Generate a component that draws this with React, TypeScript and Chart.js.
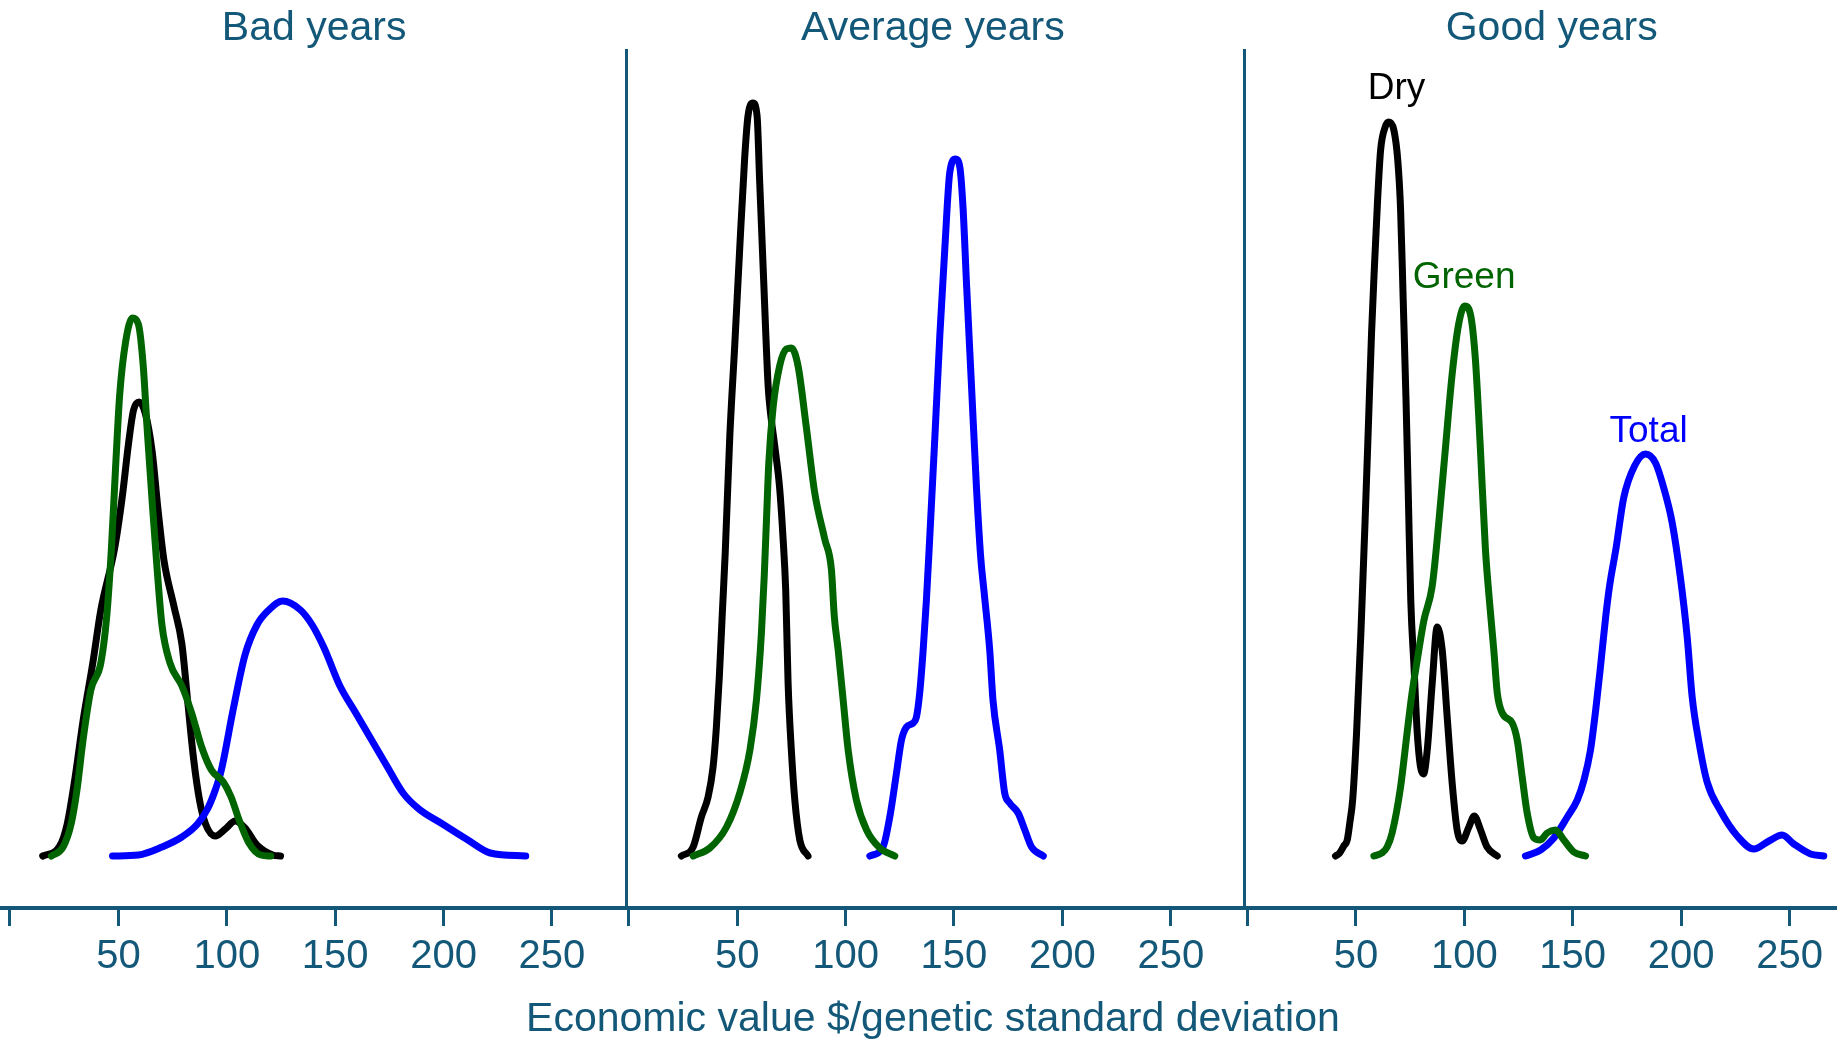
import { useEffect, useRef } from 'react';
import { Chart, registerables } from 'chart.js';

Chart.register(...registerables);

// ---- Text ----
const PANEL_TITLES = ['Bad years', 'Average years', 'Good years'];
const X_TITLE = 'Economic value $/genetic standard deviation';
const TICK_VALUES = [0, 50, 100, 150, 200, 250];

// ---- Kernel density estimates (x = $/genetic SD, y = density) ----
// Bad years
const BAD_DRY_X = [15.1, 22.7, 26.4, 30, 33.7, 38.2, 41.9, 48.3, 51.9, 54.6, 57, 59.6, 62.5, 65.6, 68.3, 71, 75.6, 79.3, 82, 84.7, 87.5, 90.2, 94.7, 99.3, 103.9, 108.4, 113.9, 121.2, 124.8];
const BAD_DRY_Y = [0, 0.00045, 0.0016, 0.0039, 0.00675, 0.00965, 0.0123, 0.0154, 0.01805, 0.02055, 0.0223, 0.0227, 0.0221, 0.0202, 0.0173, 0.0148, 0.0125, 0.0106, 0.0077, 0.00485, 0.00275, 0.0016, 0.001, 0.00135, 0.00175, 0.0014, 0.00055, 0.00005, 0];

const BAD_GREEN_X = [19.1, 24.5, 28.2, 30.9, 33.7, 37.3, 41.9, 44.6, 46.8, 48.6, 50.6, 53.4, 56.5, 59.2, 61.4, 63.4, 65.6, 67.8, 70.1, 73.8, 79.3, 83.8, 88.4, 92.9, 98.4, 102, 105.7, 110.2, 115.7, 120.3];
const BAD_GREEN_Y = [0, 0.00045, 0.0016, 0.0033, 0.0058, 0.0083, 0.00965, 0.01195, 0.0154, 0.0192, 0.02305, 0.02575, 0.0269, 0.0266, 0.0246, 0.02115, 0.0177, 0.01445, 0.01155, 0.00965, 0.0085, 0.00715, 0.00545, 0.0043, 0.0037, 0.00295, 0.0018, 0.00065, 0.00005, 0];

const BAD_TOTAL_X = [47.3, 59.2, 70.1, 79.3, 86.5, 91.1, 94.7, 97.5, 103, 108.4, 113.9, 119.4, 125.7, 134, 139.4, 144.9, 152.2, 159.5, 166.8, 174.1, 181.3, 188.6, 199.5, 210.5, 221.5, 237.9];
const BAD_TOTAL_Y = [0, 0.00005, 0.00045, 0.00095, 0.0016, 0.00235, 0.0033, 0.0043, 0.00735, 0.01005, 0.01155, 0.0123, 0.01275, 0.0123, 0.01155, 0.0104, 0.0085, 0.00715, 0.0058, 0.00445, 0.00315, 0.00235, 0.0016, 0.00085, 0.00015, 0];

// Average years
const AVG_DRY_X = [24.3, 29.7, 33.5, 36.6, 38.9, 40.4, 41.8, 43.1, 44.5, 46.6, 48.9, 51.2, 53.5, 55, 57.3, 59.2, 60.4, 62.3, 64.3, 65.1, 67.4, 69.6, 71.2, 72.4, 73.5, 75, 76.6, 78.9, 82.7];
const AVG_DRY_Y = [0, 0.00045, 0.00195, 0.00295, 0.00445, 0.0064, 0.009, 0.012, 0.01515, 0.02095, 0.02555, 0.0304, 0.03495, 0.037, 0.03765, 0.037, 0.0337, 0.0286, 0.0235, 0.02245, 0.02045, 0.0184, 0.01585, 0.0133, 0.00865, 0.0053, 0.0028, 0.0008, 0];

const AVG_GREEN_X = [29.7, 37.4, 45.1, 51.2, 55.9, 58.9, 61.2, 62.5, 63.6, 64.6, 66.6, 69.6, 72.7, 75, 78.1, 81.9, 85.8, 90.4, 93.5, 94.8, 96.6, 98.9, 101.2, 105, 109.7, 115.8, 122.7];
const AVG_GREEN_Y = [0, 0.0004, 0.00145, 0.00315, 0.0053, 0.0078, 0.01115, 0.014, 0.017, 0.01965, 0.02245, 0.0245, 0.02535, 0.0254, 0.0245, 0.02145, 0.01815, 0.01585, 0.0143, 0.012, 0.0103, 0.0078, 0.0053, 0.0028, 0.0013, 0.0004, 0];

const AVG_TOTAL_X = [111.2, 117.3, 120.4, 123.5, 125.8, 128.1, 131.2, 132.7, 134.2, 135.8, 137.3, 138.8, 141.2, 143.5, 145.8, 148.1, 150.8, 152.7, 154.2, 155.8, 158.1, 160.4, 162.3, 164, 166.5, 168, 171.1, 173.4, 175.7, 179.6, 182.7, 185.8, 191.2];
const AVG_TOTAL_Y = [0, 0.00045, 0.00195, 0.00415, 0.0058, 0.00645, 0.00665, 0.00695, 0.00815, 0.0103, 0.0128, 0.01585, 0.02095, 0.02605, 0.0304, 0.0342, 0.03485, 0.03445, 0.0324, 0.0286, 0.0235, 0.0184, 0.015, 0.0131, 0.0103, 0.0078, 0.0053, 0.00315, 0.00265, 0.00215, 0.0013, 0.00045, 0];

// Good years
const GOOD_DRY_X = [40.6, 42.5, 44.4, 46, 47.3, 48.5, 50.3, 52.3, 54.2, 55.8, 57.2, 58.6, 60, 61.4, 63.5, 65.2, 67.5, 69.3, 70.6, 71.8, 73.1, 74.2, 75.3, 76.8, 78.3, 79.8, 81.2, 82.9, 85.2, 87.5, 89.8, 92.1, 94.4, 96.7, 99, 102.1, 104.6, 107.5, 110.5, 115.2];
const GOOD_DRY_Y = [0, 0.00015, 0.0005, 0.0008, 0.00175, 0.0028, 0.00615, 0.01115, 0.01665, 0.02165, 0.0261, 0.0296, 0.0328, 0.0353, 0.03645, 0.0367, 0.0363, 0.0348, 0.03235, 0.02785, 0.02285, 0.0179, 0.0128, 0.00945, 0.00615, 0.00445, 0.0041, 0.0053, 0.00865, 0.01145, 0.0103, 0.00695, 0.00365, 0.0013, 0.00075, 0.00145, 0.002, 0.0013, 0.00045, 0];

const GOOD_GREEN_X = [58.3, 62, 64.4, 66.7, 70.6, 73.6, 75.9, 78.3, 81.3, 85.2, 88.2, 91.3, 94.4, 97.4, 100.2, 102.8, 105.1, 107.4, 109.7, 112, 113.6, 115.2, 117.5, 122.1, 124.4, 126.7, 129, 132.1, 135.1, 138.2, 142, 145.9, 150.5, 155.9];
const GOOD_GREEN_Y = [0, 0.00015, 0.00045, 0.00115, 0.00345, 0.00615, 0.00815, 0.0098, 0.01175, 0.0135, 0.01665, 0.0204, 0.0241, 0.0266, 0.0275, 0.0271, 0.02485, 0.0204, 0.0154, 0.01225, 0.0103, 0.00815, 0.00715, 0.00665, 0.0058, 0.00395, 0.00215, 0.0009, 0.0008, 0.00115, 0.0013, 0.0008, 0.0002, 0];

const GOOD_TOTAL_X = [128.2, 135.2, 141.3, 147.5, 152.1, 155.2, 158.2, 160.6, 162.8, 165.2, 167, 170, 173.5, 178.5, 183.6, 188.2, 192, 195.9, 199.7, 202.8, 205.1, 208.2, 212, 218.2, 225.9, 233.5, 240.5, 246.6, 252, 259.7, 265.8];
const GOOD_TOTAL_Y = [0, 0.0003, 0.0009, 0.00195, 0.0028, 0.0038, 0.0053, 0.0073, 0.00945, 0.01195, 0.0135, 0.0154, 0.0179, 0.0195, 0.0201, 0.01965, 0.0184, 0.01665, 0.0139, 0.01095, 0.00795, 0.0057, 0.0037, 0.00225, 0.001, 0.00035, 0.00075, 0.00105, 0.0006, 0.0001, 0];

// Curve labels in the "Good years" panel (x, y at the text baseline centre)
const LABEL_TEXT = ['Dry', 'Green', 'Total'];
const LABEL_X = [68.7, 99.9, 185.0];
const LABEL_Y = [0.03785, 0.0284, 0.0207];

// ---- Styling ----
const AXIS_COLOR = '#135878';
const DRY_COLOR = '#000000';
const GREEN_COLOR = '#006400';
const TOTAL_COLOR = '#0000ff';
const FONT = '"Liberation Sans", Arial, Helvetica, sans-serif';
const PANEL_SPAN = 285.4; // width of one panel in x units
const X_MIN = -4.6;
const X_MAX = 842.7;
const Y_MIN = -0.0026;
const Y_MAX = 0.04035;

const LABEL_COLORS = [DRY_COLOR, GREEN_COLOR, TOTAL_COLOR];

type Curve = { panel: number; color: string; xs: number[]; ys: number[]; order: number };

// Green drawn on top, then Total, then Dry
const CURVES: Curve[] = [
  { panel: 0, color: GREEN_COLOR, xs: BAD_GREEN_X, ys: BAD_GREEN_Y, order: 0 },
  { panel: 1, color: GREEN_COLOR, xs: AVG_GREEN_X, ys: AVG_GREEN_Y, order: 0 },
  { panel: 2, color: GREEN_COLOR, xs: GOOD_GREEN_X, ys: GOOD_GREEN_Y, order: 0 },
  { panel: 0, color: TOTAL_COLOR, xs: BAD_TOTAL_X, ys: BAD_TOTAL_Y, order: 1 },
  { panel: 1, color: TOTAL_COLOR, xs: AVG_TOTAL_X, ys: AVG_TOTAL_Y, order: 1 },
  { panel: 2, color: TOTAL_COLOR, xs: GOOD_TOTAL_X, ys: GOOD_TOTAL_Y, order: 1 },
  { panel: 0, color: DRY_COLOR, xs: BAD_DRY_X, ys: BAD_DRY_Y, order: 2 },
  { panel: 1, color: DRY_COLOR, xs: AVG_DRY_X, ys: AVG_DRY_Y, order: 2 },
  { panel: 2, color: DRY_COLOR, xs: GOOD_DRY_X, ys: GOOD_DRY_Y, order: 2 },
];

const panelDecor = {
  id: 'panelDecor',
  beforeDatasetsDraw(chart: any) {
    const { ctx, chartArea, scales } = chart;
    const xs = scales.x;
    ctx.save();
    ctx.strokeStyle = AXIS_COLOR;
    ctx.lineWidth = 3;
    for (let k = 1; k < PANEL_TITLES.length; k++) {
      const px = Math.round(xs.getPixelForValue(k * PANEL_SPAN - 1.4)) + 0.5;
      ctx.beginPath();
      ctx.moveTo(px, chartArea.top);
      ctx.lineTo(px, chartArea.bottom);
      ctx.stroke();
    }
    ctx.restore();
  },
  afterDraw(chart: any) {
    const { ctx, scales } = chart;
    const xs = scales.x;
    const ys = scales.y;
    ctx.save();
    ctx.textAlign = 'center';
    ctx.textBaseline = 'alphabetic';
    ctx.fillStyle = AXIS_COLOR;
    ctx.font = `41px ${FONT}`;
    PANEL_TITLES.forEach((t, k) => {
      ctx.fillText(t, xs.getPixelForValue((k + 0.5) * PANEL_SPAN - 2.4), 40);
    });
    ctx.fillText(X_TITLE, xs.getPixelForValue(1.5 * PANEL_SPAN - 2.4), 1031);
    ctx.font = `37px ${FONT}`;
    LABEL_TEXT.forEach((t, i) => {
      ctx.fillStyle = LABEL_COLORS[i];
      ctx.fillText(t, xs.getPixelForValue(2 * PANEL_SPAN + LABEL_X[i]), ys.getPixelForValue(LABEL_Y[i]));
    });
    ctx.restore();
  },
};

export default function App() {
  const canvasRef = useRef<HTMLCanvasElement | null>(null);

  useEffect(() => {
    if (!canvasRef.current) return;
    const datasets = CURVES.map((c) => ({
      data: c.xs.map((x, i) => ({ x: c.panel * PANEL_SPAN + x, y: c.ys[i] })),
      borderColor: c.color,
      backgroundColor: c.color,
      borderWidth: 7,
      borderCapStyle: 'round' as const,
      borderJoinStyle: 'round' as const,
      pointRadius: 0,
      pointHoverRadius: 0,
      fill: false,
      cubicInterpolationMode: 'monotone' as const,
      order: c.order,
    }));

    const chart = new Chart(canvasRef.current, {
      type: 'line',
      data: { datasets },
      options: {
        animation: false,
        responsive: false,
        devicePixelRatio: 1,
        events: [],
        layout: { padding: { top: 49, left: 0, right: 0, bottom: 0 } },
        plugins: {
          legend: { display: false },
          tooltip: { enabled: false },
        },
        scales: {
          x: {
            type: 'linear',
            min: X_MIN,
            max: X_MAX,
            afterBuildTicks: (scale: any) => {
              const ticks: { value: number }[] = [];
              for (let k = 0; k < PANEL_TITLES.length; k++) {
                TICK_VALUES.forEach((v) => ticks.push({ value: k * PANEL_SPAN + v }));
              }
              scale.ticks = ticks;
            },
            afterFit: (scale: any) => {
              scale.height = 132;
            },
            ticks: {
              autoSkip: false,
              maxRotation: 0,
              minRotation: 0,
              padding: 7,
              color: AXIS_COLOR,
              font: { family: FONT, size: 40 },
              callback: (value: any) => {
                const k = Math.floor((Number(value) + 1) / PANEL_SPAN);
                const v = Math.round(Number(value) - k * PANEL_SPAN);
                return v === 0 ? '' : String(v);
              },
            },
            grid: {
              display: true,
              drawOnChartArea: false,
              drawTicks: true,
              tickLength: 18,
              tickWidth: 3,
              tickColor: AXIS_COLOR,
            },
            border: { display: true, color: AXIS_COLOR, width: 4 },
          },
          y: {
            display: false,
            min: Y_MIN,
            max: Y_MAX,
          },
        },
      },
      plugins: [panelDecor],
    } as any);

    return () => chart.destroy();
  }, []);

  return (
    <div style={{ position: 'absolute', left: 0, top: 0, width: 1837, height: 1040, background: '#ffffff' }}>
      <canvas ref={canvasRef} width={1837} height={1040} style={{ display: 'block', width: 1837, height: 1040 }} />
    </div>
  );
}
